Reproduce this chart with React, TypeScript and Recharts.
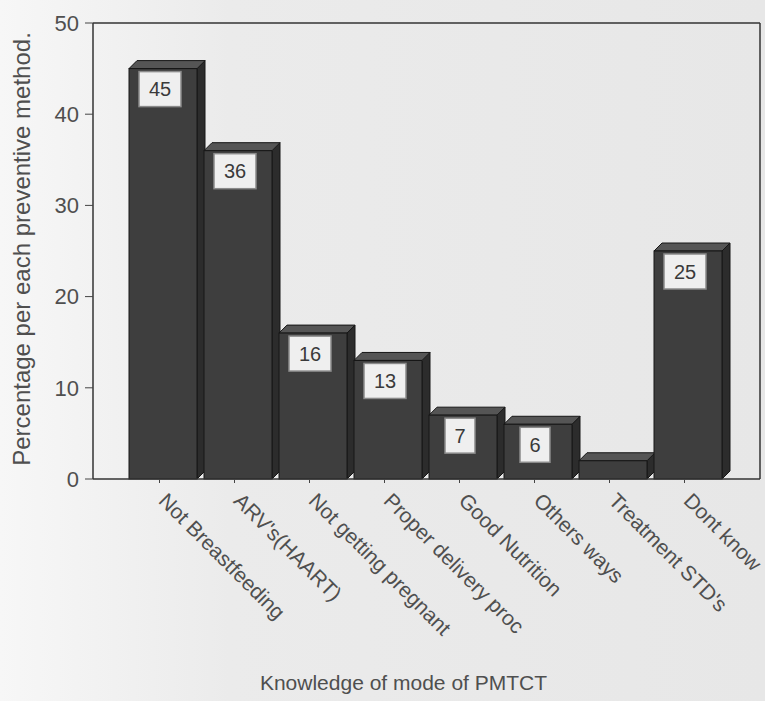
import React from "react";
import { BarChart, Bar, XAxis, YAxis, LabelList, CartesianGrid } from "recharts";

// Knowledge of PMTCT modes (percent of respondents)
const categories = [
  "Not Breastfeeding",
  "ARV's(HAART)",
  "Not getting pregnant",
  "Proper delivery proc",
  "Good Nutrition",
  "Others ways",
  "Treatment STD's",
  "Dont know",
];
const percentages = [45, 36, 16, 13, 7, 6, 2, 25];
const yTicks = [0, 10, 20, 30, 40, 50];

const data = categories.map((name, i) => ({ name, value: percentages[i] }));

const FONT = "Arial, 'Liberation Sans', sans-serif";
const TEXT = "#4f4f4f";

// fake 3D column: front face + top + right side
const Bar3D = (props: any) => {
  const { x, y, width, height } = props;
  if (height <= 0) return null;
  const d = 8;
  const fx = x + 7;
  const rx = x + width;
  return (
    <g stroke="#161616" strokeWidth={1}>
      <polygon
        points={`${rx},${y} ${rx + d},${y - d} ${rx + d},${y + height - d} ${rx},${y + height}`}
        fill="#2c2c2c"
      />
      <polygon
        points={`${fx},${y} ${fx + d},${y - d} ${rx + d},${y - d} ${rx},${y}`}
        fill="#555555"
      />
      <rect x={fx} y={y} width={rx - fx} height={height} fill="#3e3e3e" />
    </g>
  );
};

const ValueBox = (props: any) => {
  const { x, y, width, value } = props;
  if (value < 3) return null; // too short to hold a box
  const w = String(value).length > 1 ? 42 : 30;
  const h = 35;
  const cx = x + width / 2 + 0.5;
  return (
    <g>
      <rect x={cx - w / 2} y={y + 3} width={w} height={h} fill="#efefef" stroke="#8a8a8a" strokeWidth={1.5} />
      <text x={cx} y={y + 3 + h / 2} textAnchor="middle" dominantBaseline="central" fontSize={20} fontFamily={FONT} fill="#3a3a3a">
        {value}
      </text>
    </g>
  );
};

const XTick = (props: any) => {
  const { x, y, payload } = props;
  const tx = x - 2;
  const ty = y + 17;
  return (
    <text x={tx} y={ty} transform={`rotate(45, ${tx}, ${ty})`} fontSize={21} fontFamily={FONT} fill={TEXT}>
      {payload.value}
    </text>
  );
};

export default function App() {
  return (
    <div
      style={{
        position: "absolute",
        left: 0,
        top: 0,
        width: 765,
        height: 701,
        background: "linear-gradient(to right, #f7f7f7 0%, #ebebeb 30%, #e7e7e7 100%)",
      }}
    >
      <BarChart
        width={765}
        height={701}
        data={data}
        margin={{ top: 23, right: 5, left: 0, bottom: 0 }}
        barCategoryGap={0}
      >
        {/* frame: top and right edges of the plot */}
        <CartesianGrid
          stroke="#333"
          strokeWidth={1.5}
          horizontalCoordinatesGenerator={({ offset }: any) => [offset.top]}
          verticalCoordinatesGenerator={({ offset }: any) => [offset.left + offset.width]}
        />
        <XAxis
          dataKey="name"
          interval={0}
          height={222}
          padding={{ left: 29, right: 38 }}
          tick={<XTick />}
          tickSize={4}
          tickMargin={2}
          tickLine={{ stroke: "#444" }}
          axisLine={{ stroke: "#333", strokeWidth: 1.5 }}
          label={{
            value: "Knowledge of mode of PMTCT",
            position: "insideBottom",
            offset: 11,
            dx: -23,
            fontSize: 21,
            fontFamily: FONT,
            fill: TEXT,
          }}
        />
        <YAxis
          domain={[0, 50]}
          ticks={yTicks}
          interval={0}
          width={93}
          tickSize={8}
          tickMargin={6}
          tick={{ fontSize: 22, fontFamily: FONT, fill: TEXT }}
          tickLine={{ stroke: "#444" }}
          axisLine={{ stroke: "#333", strokeWidth: 1.5 }}
          label={{
            value: "Percentage per each preventive method.",
            angle: -90,
            position: "center",
            dx: -25,
            dy: -2,
            fontSize: 24,
            fontFamily: FONT,
            fill: TEXT,
          }}
        />
        <Bar dataKey="value" shape={<Bar3D />} isAnimationActive={false}>
          <LabelList dataKey="value" content={<ValueBox />} />
        </Bar>
      </BarChart>
    </div>
  );
}
